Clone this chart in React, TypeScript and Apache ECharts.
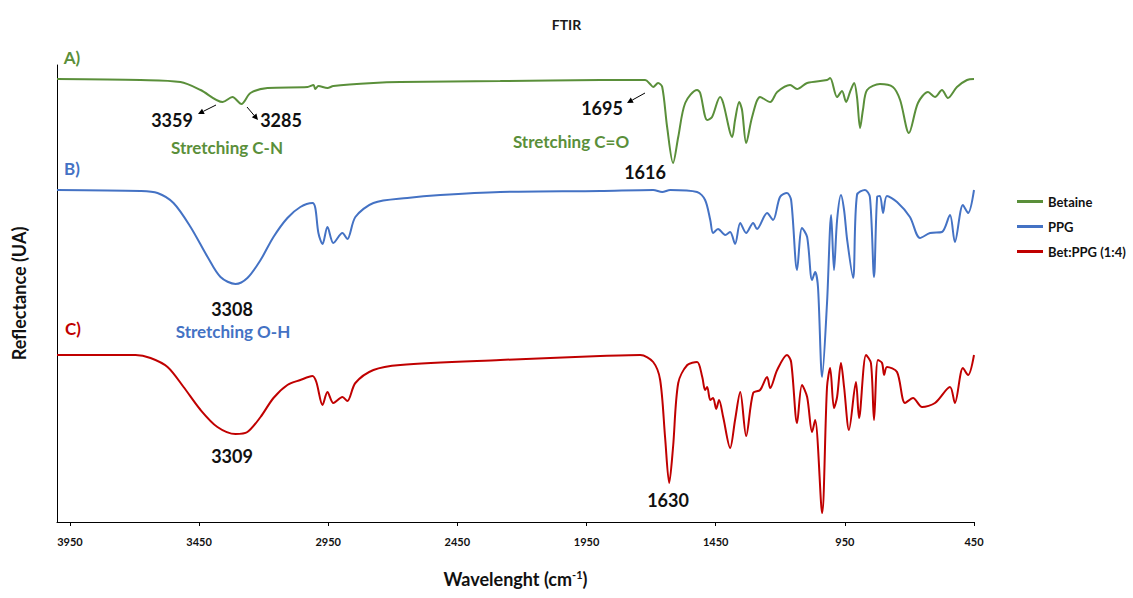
import React, { useEffect, useRef } from 'react';
import * as echarts from 'echarts';

// Wavenumbers (cm-1) and reflectance (arbitrary units, stacked offsets)
const betaineWn = [4000, 3677, 3522, 3444, 3359, 3321, 3286, 3251, 3185, 3030, 3007, 3000, 2988, 2953, 2930, 2775, 2671, 2284, 1897, 1723, 1704, 1692, 1673, 1657, 1638, 1615, 1595, 1568, 1522, 1510, 1483, 1464, 1433, 1421, 1386, 1375, 1359, 1348, 1332, 1309, 1278, 1239, 1212, 1162, 1135, 1096, 1019, 1007, 980, 961, 945, 930, 914, 903, 891, 880, 864, 814, 764, 736, 702, 667, 628, 601, 574, 551, 516, 477, 450];
const betaineR = [443, 442, 440, 432, 420, 425, 418, 429, 434, 435, 437, 433, 436, 434, 436, 439, 440, 441, 442, 442, 438, 435, 439, 435, 395, 359, 385, 419, 432, 429, 402, 405, 425, 419, 385, 402, 420, 412, 379, 405, 425, 420, 430, 437, 433, 439, 442, 444, 425, 431, 420, 430, 439, 425, 394, 412, 432, 438, 435, 422, 389, 419, 430, 425, 432, 424, 435, 442, 443];

const ppgWn = [4000, 3677, 3611, 3549, 3483, 3417, 3367, 3309, 3263, 3212, 3162, 3108, 3058, 3011, 3000, 2988, 2972, 2953, 2930, 2895, 2876, 2845, 2775, 2644, 2516, 2284, 1897, 1692, 1657, 1626, 1522, 1491, 1471, 1460, 1441, 1413, 1394, 1375, 1355, 1332, 1305, 1290, 1251, 1228, 1201, 1174, 1158, 1135, 1116, 1096, 1077, 1065, 1054, 1038, 1019, 1003, 992, 980, 965, 953, 941, 918, 903, 872, 853, 837, 825, 814, 802, 787, 748, 698, 659, 620, 574, 543, 524, 493, 473, 450];
const ppgR = [332, 331, 329, 319, 295, 265, 245, 238, 244, 262, 285, 304, 315, 319, 314, 289, 278, 295, 279, 289, 283, 305, 319, 324, 327, 330, 331, 332, 330, 332, 330, 322, 302, 289, 293, 287, 290, 278, 299, 289, 299, 293, 309, 302, 325, 329, 322, 252, 294, 285, 242, 250, 235, 145, 219, 307, 252, 302, 327, 312, 282, 244, 327, 332, 325, 245, 325, 326, 309, 326, 320, 305, 284, 289, 290, 307, 280, 317, 309, 332];

const mixWn = [4000, 3696, 3638, 3572, 3510, 3444, 3379, 3309, 3263, 3212, 3162, 3108, 3058, 3011, 2996, 2972, 2953, 2930, 2895, 2876, 2845, 2775, 2671, 2284, 1897, 1742, 1692, 1665, 1646, 1630, 1615, 1595, 1560, 1522, 1502, 1491, 1483, 1471, 1460, 1448, 1437, 1421, 1394, 1375, 1355, 1332, 1305, 1278, 1251, 1239, 1212, 1174, 1158, 1135, 1116, 1096, 1077, 1065, 1038, 1019, 1007, 992, 980, 965, 953, 934, 907, 895, 868, 849, 837, 822, 806, 798, 787, 748, 717, 686, 651, 601, 543, 524, 493, 473, 450];
const mixR = [167, 167, 164, 155, 135, 112, 95, 88, 90, 105, 124, 137, 142, 146, 140, 117, 130, 119, 125, 121, 139, 152, 157, 162, 166, 167, 160, 142, 85, 39, 75, 139, 157, 160, 145, 132, 135, 122, 124, 113, 122, 105, 74, 102, 130, 86, 129, 132, 145, 134, 152, 167, 160, 99, 137, 125, 90, 102, 9, 135, 154, 114, 125, 159, 135, 92, 140, 104, 167, 159, 102, 162, 159, 147, 155, 150, 119, 124, 115, 119, 135, 119, 154, 147, 167];

const xTicks = [450, 950, 1450, 1950, 2450, 2950, 3450, 3950];
const seriesNames = ['Betaine', 'PPG', 'Bet:PPG (1:4)'];
const colors = ['#5a8f3a', '#4472c4', '#c00000'];

const FONT = 'Lato, "Open Sans", sans-serif';

// annotation labels: [text, centerX, centerY, colour index (-1 = black), fontSize]
const labels: [string, number, number, number, number][] = [
  ['A)', 72, 57, 0, 17],
  ['B)', 72, 168, 1, 17],
  ['C)', 73, 328, 2, 17],
  ['3359', 172, 120, -1, 18],
  ['3285', 281, 120, -1, 18],
  ['Stretching C-N', 227, 147, 0, 17],
  ['1695', 602, 108, -1, 18],
  ['Stretching C=O', 571, 141, 0, 17],
  ['1616', 645, 172, -1, 18],
  ['3308', 232, 309, -1, 18],
  ['Stretching O-H', 233, 331, 1, 17],
  ['3309', 232, 456, -1, 18],
  ['1630', 668, 500, -1, 18],
];

const arrows: [number, number, number, number][] = [
  [216, 105, 198, 114],
  [247, 107, 258, 120],
  [645, 93, 627, 103],
];

function arrowElements() {
  const els: any[] = [];
  arrows.forEach(([x1, y1, x2, y2]) => {
    const dx = x2 - x1;
    const dy = y2 - y1;
    const len = Math.sqrt(dx * dx + dy * dy);
    const ux = dx / len;
    const uy = dy / len;
    const hl = 6;
    const hw = 3;
    const bx = x2 - ux * hl;
    const by = y2 - uy * hl;
    els.push({
      type: 'line',
      shape: { x1, y1, x2: bx, y2: by },
      style: { stroke: '#000', lineWidth: 1 },
      silent: true,
    });
    els.push({
      type: 'polygon',
      shape: {
        points: [
          [x2, y2],
          [bx - uy * hw, by + ux * hw],
          [bx + uy * hw, by - ux * hw],
        ],
      },
      style: { fill: '#000' },
      silent: true,
    });
  });
  return els;
}

export default function App() {
  const ref = useRef<HTMLDivElement>(null);

  useEffect(() => {
    document.body.style.margin = '0';
    if (!ref.current) return;
    const chart = echarts.init(ref.current, undefined, { renderer: 'svg' });

    const zip = (a: number[], b: number[]) => a.map((w, i) => [w, b[i]]);
    const data = [zip(betaineWn, betaineR), zip(ppgWn, ppgR), zip(mixWn, mixR)];

    const textEls = labels.map(([text, x, y, ci, size]) => ({
      type: 'text',
      x,
      y,
      silent: true,
      style: {
        text,
        fill: ci < 0 ? '#111' : colors[ci],
        font: `bold ${size}px ${FONT}`,
        textAlign: 'center',
        textVerticalAlign: 'middle',
        align: 'center',
        verticalAlign: 'middle',
      },
    }));

    chart.setOption({
      animation: false,
      backgroundColor: '#ffffff',
      title: {
        text: 'FTIR',
        left: 'center',
        top: 12,
        textStyle: { fontSize: 14, fontWeight: 'bold', color: '#1a1a1a', fontFamily: FONT },
      },
      legend: {
        orient: 'vertical',
        left: 1012,
        top: 190,
        itemWidth: 26,
        itemHeight: 3,
        itemGap: 12,
        selectedMode: false,
        textStyle: { fontSize: 13, fontWeight: 'bold', color: '#111', fontFamily: FONT },
        data: seriesNames.map((n) => ({ name: n, icon: 'rect' })),
      },
      grid: { left: 57, right: 159, top: 65, bottom: 76 },
      xAxis: {
        type: 'value',
        inverse: true,
        min: 450,
        max: 4000,
        name: 'Wavelenght (cm{sup|-1})',
        nameLocation: 'middle',
        nameGap: 47,
        nameTextStyle: {
          fontSize: 18,
          fontWeight: 'bold',
          color: '#111',
          fontFamily: FONT,
          rich: { sup: { fontSize: 11, fontWeight: 'bold', verticalAlign: 'top', color: '#111', fontFamily: FONT, padding: [0, 0, 9, 0] } },
        },
        axisLine: { show: true, onZero: false, lineStyle: { color: '#000', width: 1 } },
        axisTick: { show: true, length: 4, customValues: xTicks, lineStyle: { color: '#000' } },
        axisLabel: {
          customValues: xTicks,
          formatter: (v: number) => String(v),
          margin: 14,
          fontSize: 11,
          fontWeight: 'bold',
          color: '#111',
          fontFamily: FONT,
        },
        splitLine: { show: false },
      },
      yAxis: {
        type: 'value',
        min: 0,
        max: 457,
        name: 'Reflectance (UA)',
        nameLocation: 'middle',
        nameGap: 29,
        nameTextStyle: { fontSize: 18, fontWeight: 'bold', color: '#111', fontFamily: FONT },
        axisLine: { show: true, lineStyle: { color: '#000', width: 1 } },
        axisTick: { show: false },
        axisLabel: { show: false },
        splitLine: { show: false },
      },
      series: seriesNames.map((name, i) => ({
        name,
        type: 'line',
        data: data[i],
        symbol: 'none',
        showSymbol: false,
        smooth: 0.3,
        color: colors[i],
        lineStyle: { width: 2, color: colors[i] },
      })),
      graphic: [...textEls, ...arrowElements()],
    });

    return () => chart.dispose();
  }, []);

  return <div ref={ref} style={{ width: 1133, height: 598 }} />;
}
